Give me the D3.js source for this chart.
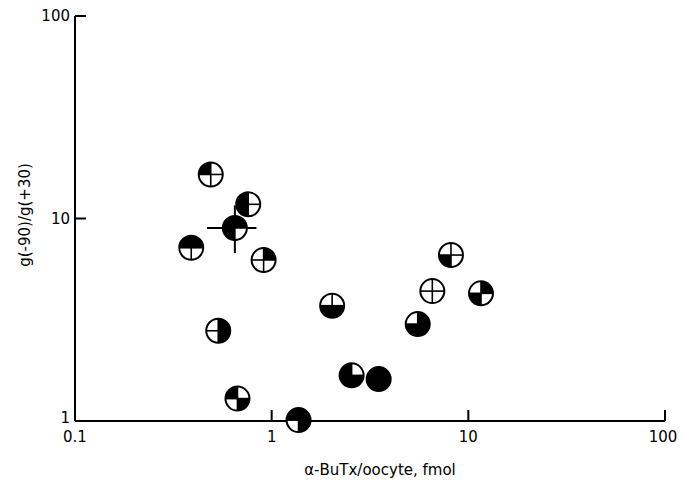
<!DOCTYPE html>
<html><head><meta charset="utf-8">
<script src="https://cdn.jsdelivr.net/npm/d3@7"></script>
<style>body{margin:0;background:#fff}svg{display:block}text{font-family:"DejaVu Sans",sans-serif;fill:#000}</style>
</head><body><svg id="c" width="683" height="487"></svg>
<script>
// data: α-BuTx per oocyte (fmol) vs g(-90)/g(+30)
const xVals = [0.49, 0.76, 0.65, 0.39, 0.91, 0.535, 0.67, 1.37, 2.03, 2.55, 3.5, 5.53, 6.56, 8.16, 11.6];
const yVals = [16.5, 11.75, 8.98, 7.17, 6.24, 2.79, 1.29, 1.01, 3.71, 1.68, 1.61, 3.01, 4.38, 6.6, 4.27];
// quadrant fill code [TL, TR, BL, BR], 1 = black
const quadrants = [
  [1,0,0,0],[1,0,1,0],[1,1,1,0],[1,1,0,0],[0,1,0,0],
  [0,1,0,1],[1,0,0,1],[1,1,0,1],[0,0,1,1],[1,0,1,1],
  [1,1,1,1],[0,1,1,1],[0,0,0,0],[0,0,1,0],[0,1,1,0]
];
// error bars for point index 2
const errX = [0.469, 0.837];
const errY = [6.75, 11.6];
const xTicks = [0.1, 1, 10, 100];
const xTickLabels = ["0.1", "1", "10", "100"];
const yTicks = [1, 10, 100];
const yTickLabels = ["1", "10", "100"];

const svg = d3.select("#c");
const x = d3.scaleLog().domain([0.1, 100]).range([75, 665]);
const y = d3.scaleLog().domain([1, 100]).range([421, 16]);
const sw = 2;

// axes
svg.append("line").attr("x1", x(0.1)).attr("x2", x(100)).attr("y1", y(1)).attr("y2", y(1)).attr("stroke","#000").attr("stroke-width",sw);
svg.append("line").attr("x1", x(0.1)).attr("x2", x(0.1)).attr("y1", y(1)).attr("y2", y(100)).attr("stroke","#000").attr("stroke-width",sw);
xTicks.forEach((t,i) => {
  if (i > 0) svg.append("line").attr("x1", x(t)).attr("x2", x(t)).attr("y1", y(1)).attr("y2", y(1)-11).attr("stroke","#000").attr("stroke-width",sw);
  svg.append("text").attr("x", x(t) + (i===3?-2:0)).attr("y", y(1)+21).attr("text-anchor","middle").attr("font-size",15).text(xTickLabels[i]);
});
yTicks.forEach((t,i) => {
  if (i > 0) svg.append("line").attr("x1", x(0.1)).attr("x2", x(0.1)+11).attr("y1", y(t)).attr("y2", y(t)).attr("stroke","#000").attr("stroke-width",sw);
  svg.append("text").attr("x", x(0.1)-5).attr("y", y(t)+ (i===0?2:5)).attr("text-anchor","end").attr("font-size",15).text(yTickLabels[i]);
});
svg.append("text").attr("x", 380).attr("y", 475).attr("text-anchor","middle").attr("font-size",15).text("α-BuTx/oocyte, fmol");
svg.append("text").attr("transform","translate(30,215) rotate(-90)").attr("text-anchor","middle").attr("font-size",15).text("g(-90)/g(+30)");

// error bars
const ci = 2;
svg.append("line").attr("x1", x(errX[0])).attr("x2", x(errX[1])).attr("y1", y(yVals[ci])).attr("y2", y(yVals[ci])).attr("stroke","#000").attr("stroke-width",sw);
svg.append("line").attr("x1", x(xVals[ci])).attr("x2", x(xVals[ci])).attr("y1", y(errY[0])).attr("y2", y(errY[1])).attr("stroke","#000").attr("stroke-width",sw);

// markers
const r = 12;
const arc = d3.arc().innerRadius(0).outerRadius(r);
const qAngles = [[-Math.PI/2,0],[0,Math.PI/2],[Math.PI,1.5*Math.PI],[Math.PI/2,Math.PI]];
const order = [0,1,3,2,4,5,6,7,8,9,10,11,12,13,14];
order.forEach(i => {
  const g = svg.append("g").attr("transform", `translate(${x(xVals[i])},${y(yVals[i])})`);
  g.append("circle").attr("r", r).attr("fill","#fff");
  quadrants[i].forEach((q,k) => {
    if (q) g.append("path").attr("d", arc({startAngle:qAngles[k][0], endAngle:qAngles[k][1]})).attr("fill","#000");
  });
  g.append("line").attr("x1",-r).attr("x2",r).attr("y1",0).attr("y2",0).attr("stroke","#000").attr("stroke-width",1.6);
  g.append("line").attr("x1",0).attr("x2",0).attr("y1",-r).attr("y2",r).attr("stroke","#000").attr("stroke-width",1.6);
  g.append("circle").attr("r", r).attr("fill","none").attr("stroke","#000").attr("stroke-width",2);
});
</script></body></html>
